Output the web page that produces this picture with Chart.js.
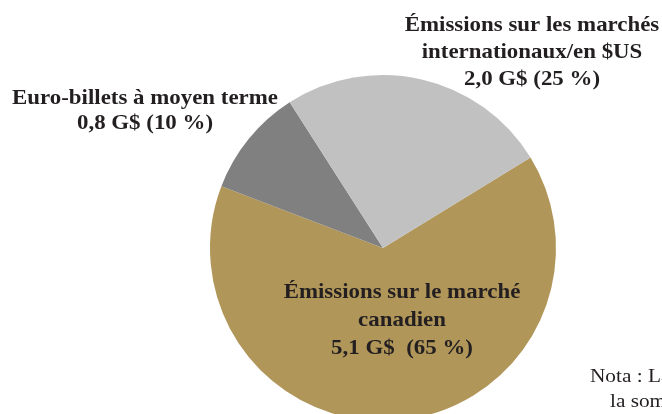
<!DOCTYPE html>
<html>
<head>
<meta charset="utf-8">
<script src="https://cdn.jsdelivr.net/npm/chart.js@4"></script>
<style>
  html, body { margin: 0; padding: 0; background: #fff; overflow: hidden; }
  #wrap { width: 662px; height: 496px; }
</style>
</head>
<body>
<div id="wrap"><canvas id="pie"></canvas></div>
<script>
// Données (G$)
const categories = [
    'Émissions sur le marché canadien',
    'Euro-billets à moyen terme',
    'Émissions sur les marchés internationaux/en $US'
];
const values = [5.1, 0.8, 2.0];
const percents = [65, 10, 25];
const colors = ['#b1965a', '#808080', '#c1c1c1'];

// étiquettes, une ligne par entrée
const labelLines = [
    ['Émissions sur le marché', 'canadien', '5,1 G$  (65 %)'],
    ['Euro-billets à moyen terme', '0,8 G$ (10 %)'],
    ['Émissions sur les marchés', 'internationaux/en $US', '2,0 G$ (25 %)']
];
const noteLines = ['Nota : La somme', 'la somme des'];

const FONT = '"Liberation Serif", "DejaVu Serif", serif';

/**
 * Draw the slice labels and the cut-off note
 */
const labelPlugin = {
    id: 'sliceLabels',
    afterDraw(chart) {
        const ctx = chart.ctx;
        const spots = [
            {x: 402, y: 298, lh: 28},
            {x: 145, y: 104, lh: 25},
            {x: 532, y: 31, lh: 27}
        ];
        ctx.save();
        ctx.fillStyle = '#231f20';
        ctx.textAlign = 'center';
        ctx.textBaseline = 'alphabetic';
        ctx.font = 'bold 21px ' + FONT;
        labelLines.forEach((lines, i) => {
            lines.forEach((t, j) => {
                // the original face is wider, stretch a bit
                ctx.save();
                ctx.translate(spots[i].x, spots[i].y + j * spots[i].lh);
                ctx.scale(1.09, 1);
                ctx.fillText(t, 0, 0);
                ctx.restore();
            });
        });
        ctx.font = '19px ' + FONT;
        ctx.textAlign = 'left';
        noteLines.forEach((t, j) => {
            ctx.save();
            ctx.translate(j ? 610 : 590, 382 + j * 25);
            ctx.scale(1.12, 1);
            ctx.fillText(t, 0, 0);
            ctx.restore();
        });
        ctx.restore();
    }
};

new Chart(document.getElementById('pie'), {
    type: 'pie',
    data: {
        labels: categories,
        datasets: [{
            data: values,
            backgroundColor: colors,
            borderWidth: 0
        }]
    },
    options: {
        responsive: true,
        maintainAspectRatio: false,
        animation: false,
        rotation: 58.5,
        layout: {
            padding: {top: 75, bottom: 75, left: 210, right: 106}
        },
        plugins: {
            legend: {display: false},
            tooltip: {enabled: false}
        }
    },
    plugins: [labelPlugin]
});
</script>
</body>
</html>
